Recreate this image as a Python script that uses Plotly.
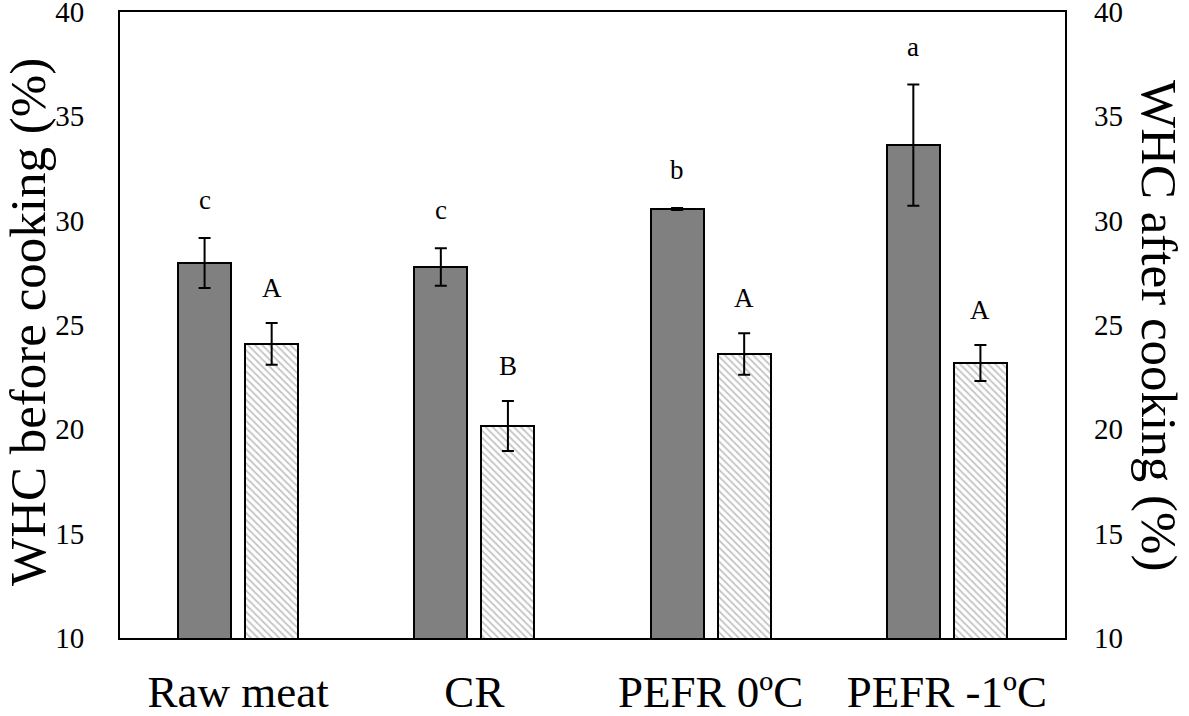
import plotly.graph_objects as go

categories = ["Raw meat", "CR", "PEFR 0ºC", "PEFR -1ºC"]
before_vals = [27.97, 27.78, 30.56, 33.62]
before_err = [1.2, 0.9, 0.05, 2.9]
after_vals = [24.09, 20.16, 23.61, 23.18]
after_err = [1.0, 1.2, 1.0, 0.86]
before_letters = ["c", "c", "b", "a"]
after_letters = ["A", "B", "A", "A"]

FONT = "Liberation Serif, Times New Roman, DejaVu Serif, serif"
BAR_W = 0.224
OFF_BEFORE = -0.254
OFF_AFTER = 0.030

W, H = 1189, 716
ML, MR, MT, MB = 120, 124, 12, 78
pw, ph = W - ML - MR, H - MT - MB


def px_to_paper(px, py):
    return (px - ML) / pw, 1 - (py - MT) / ph


fig = go.Figure()
fig.add_trace(go.Bar(
    x=categories, y=before_vals, width=BAR_W, offset=OFF_BEFORE,
    marker=dict(color="#808080", line=dict(color="black", width=2)),
    error_y=dict(type="data", array=before_err, color="black", thickness=2, width=6),
    yaxis="y", showlegend=False, hoverinfo="skip",
))
fig.add_trace(go.Bar(
    x=categories, y=after_vals, width=BAR_W, offset=OFF_AFTER,
    marker=dict(color="white", line=dict(color="black", width=2),
                pattern=dict(shape="\\", fgcolor="#8a8a8a", bgcolor="white",
                             size=5, solidity=0.35)),
    error_y=dict(type="data", array=after_err, color="black", thickness=2, width=6),
    yaxis="y2", showlegend=False, hoverinfo="skip",
))

annotations = []
for i in range(len(categories)):
    annotations.append(dict(
        x=i + OFF_BEFORE + BAR_W / 2, y=before_vals[i] + before_err[i],
        xref="x", yref="y", text=before_letters[i], showarrow=False,
        yanchor="bottom", yshift=21, font=dict(family=FONT, size=27, color="black")))
    annotations.append(dict(
        x=i + OFF_AFTER + BAR_W / 2, y=after_vals[i] + after_err[i],
        xref="x", yref="y2", text=after_letters[i], showarrow=False,
        yanchor="bottom", yshift=18, font=dict(family=FONT, size=27, color="black")))

lx, ly = px_to_paper(28, 322)
rx, ry = px_to_paper(1159, 325)
annotations.append(dict(
    x=lx, y=ly, xref="paper", yref="paper", text="WHC before cooking (%)",
    showarrow=False, textangle=-90, xanchor="center", yanchor="middle",
    font=dict(family=FONT, size=51, color="black")))
annotations.append(dict(
    x=rx, y=ry, xref="paper", yref="paper", text="WHC after cooking (%)",
    showarrow=False, textangle=90, xanchor="center", yanchor="middle",
    font=dict(family=FONT, size=51, color="black")))

fig.update_layout(
    width=W, height=H,
    margin=dict(l=ML, r=MR, t=MT, b=MB, autoexpand=False),
    paper_bgcolor="white", plot_bgcolor="white",
    font=dict(family=FONT, color="black"),
    xaxis=dict(
        type="category", range=[-0.5, 3.5], showgrid=False, zeroline=False,
        showline=True, linecolor="black", linewidth=2, mirror=True,
        ticks="", tickfont=dict(family=FONT, size=45, color="black"),
        ticklabelstandoff=13, automargin=False, ticklabeloverflow="allow",
    ),
    yaxis=dict(
        range=[10, 40], dtick=5, showgrid=False, zeroline=False,
        showline=True, linecolor="black", linewidth=2, mirror=True,
        ticks="", tickfont=dict(family=FONT, size=29, color="black"),
        ticklabelstandoff=28, automargin=False, ticklabeloverflow="allow",
    ),
    yaxis2=dict(
        range=[10, 40], dtick=5, overlaying="y", side="right",
        showgrid=False, zeroline=False, showline=False,
        ticks="", tickfont=dict(family=FONT, size=29, color="black"),
        ticklabelstandoff=28, automargin=False, ticklabeloverflow="allow",
    ),
    annotations=annotations,
    bargap=0, barmode="overlay",
)

fig.write_html(
    "out.html",
    config={"displayModeBar": False},
    post_script="document.body.style.margin='0';document.body.style.overflow='hidden';",
)
